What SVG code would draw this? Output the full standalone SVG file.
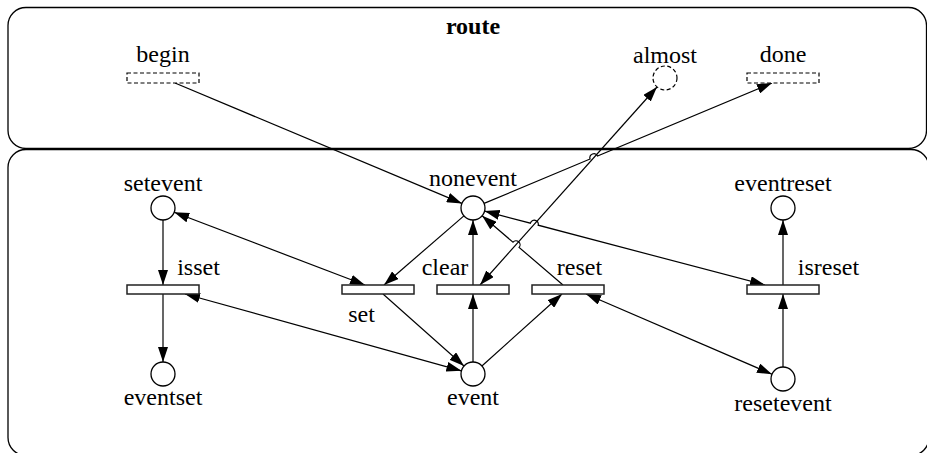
<svg xmlns="http://www.w3.org/2000/svg" width="927" height="453" viewBox="0 0 927 453">
<style>
.frame{fill:none;stroke:#000;stroke-width:1.3}
.place{fill:#fff;stroke:#000;stroke-width:1.3}
.trans{fill:#fff;stroke:#222;stroke-width:1.5}
.dash{fill:#fff;stroke:#000;stroke-width:1.2;stroke-dasharray:4 2.5}
.arc{fill:none;stroke:#000;stroke-width:1.2}
.one{marker-end:url(#ah)}
.two{marker-start:url(#ah);marker-end:url(#ah)}
</style>
<defs>
<marker id="ah" viewBox="0 0 15 10" refX="15" refY="5" markerWidth="15" markerHeight="10" markerUnits="userSpaceOnUse" orient="auto-start-reverse">
<path d="M0,0 L15,5 L0,10 z" fill="#000"/>
</marker>
</defs>
<g font-family="Liberation Serif, DejaVu Serif, serif" font-size="24" text-anchor="middle" fill="#000">
<g id="route-box">
<rect class="frame" x="8" y="7.5" width="918.5" height="141" rx="18" ry="18"/>
<text x="473" y="34" font-weight="bold">route</text>
</g>
<g id="main-box">
<rect class="frame" x="8" y="149.5" width="921" height="306" rx="18" ry="18"/>
</g>
<g id="connectors">
<path class="arc one" d="M175,83 L461.9,203.4"/>
<path class="arc one" d="M484.1,203.4 L590.1,159 A4,4 0 0 1 597.5,156 L772,83"/>
<path class="arc two" d="M480,285 L657,87"/>
<path class="arc two" d="M484.6,211.1 L530.4,223.2 A4,4 0 0 1 538.2,225.2 L765,285"/>
<path class="arc" d="M482.1,215.8 L513,242.2 A4,4 0 0 1 519.1,247.4 L563,285" marker-start="url(#ah)"/>
<path class="arc one" d="M473,285 L473,220"/>
<path class="arc one" d="M463.9,215.9 L384,285"/>
<path class="arc two" d="M174.2,212.3 L365,285"/>
<path class="arc one" d="M163,220 L163,285"/>
<path class="arc one" d="M163,294 L163,362"/>
<path class="arc two" d="M185,294 L461.4,370.8"/>
<path class="arc one" d="M383,294 L464,366"/>
<path class="arc one" d="M473,362 L473,294"/>
<path class="arc one" d="M481.9,366 L562,294"/>
<path class="arc two" d="M586,294 L772,374.2"/>
<path class="arc one" d="M783,367 L783,294"/>
<path class="arc one" d="M783,285 L783,220"/>
</g>
<g id="begin">
<rect class="dash" x="127" y="73" width="72" height="10"/>
<text x="163" y="62">begin</text>
</g>
<g id="almost">
<circle class="dash" cx="665" cy="78" r="12"/>
<text x="665" y="63">almost</text>
</g>
<g id="done">
<rect class="dash" x="747" y="73" width="72" height="10"/>
<text x="783" y="62">done</text>
</g>
<g id="setevent">
<circle class="place" cx="163" cy="208" r="12"/>
<text x="163" y="191">setevent</text>
</g>
<g id="nonevent">
<circle class="place" cx="473" cy="208" r="12"/>
<text x="473" y="186">nonevent</text>
</g>
<g id="eventreset">
<circle class="place" cx="783" cy="208" r="12"/>
<text x="783" y="191">eventreset</text>
</g>
<g id="eventset">
<circle class="place" cx="163" cy="374" r="12"/>
<text x="163" y="405">eventset</text>
</g>
<g id="event">
<circle class="place" cx="473" cy="374" r="12"/>
<text x="473" y="405">event</text>
</g>
<g id="resetevent">
<circle class="place" cx="783" cy="379" r="12"/>
<text x="783" y="411">resetevent</text>
</g>
<g id="isset">
<rect class="trans" x="127" y="285" width="72" height="9"/>
<text x="198.5" y="275">isset</text>
</g>
<g id="set">
<rect class="trans" x="342" y="285" width="72" height="9"/>
<text x="361.5" y="322">set</text>
</g>
<g id="clear">
<rect class="trans" x="437" y="285" width="72" height="9"/>
<text x="445" y="275">clear</text>
</g>
<g id="reset">
<rect class="trans" x="532" y="285" width="72" height="9"/>
<text x="579.5" y="275">reset</text>
</g>
<g id="isreset">
<rect class="trans" x="747" y="285" width="72" height="9"/>
<text x="828.5" y="275">isreset</text>
</g>
</g>
</svg>
